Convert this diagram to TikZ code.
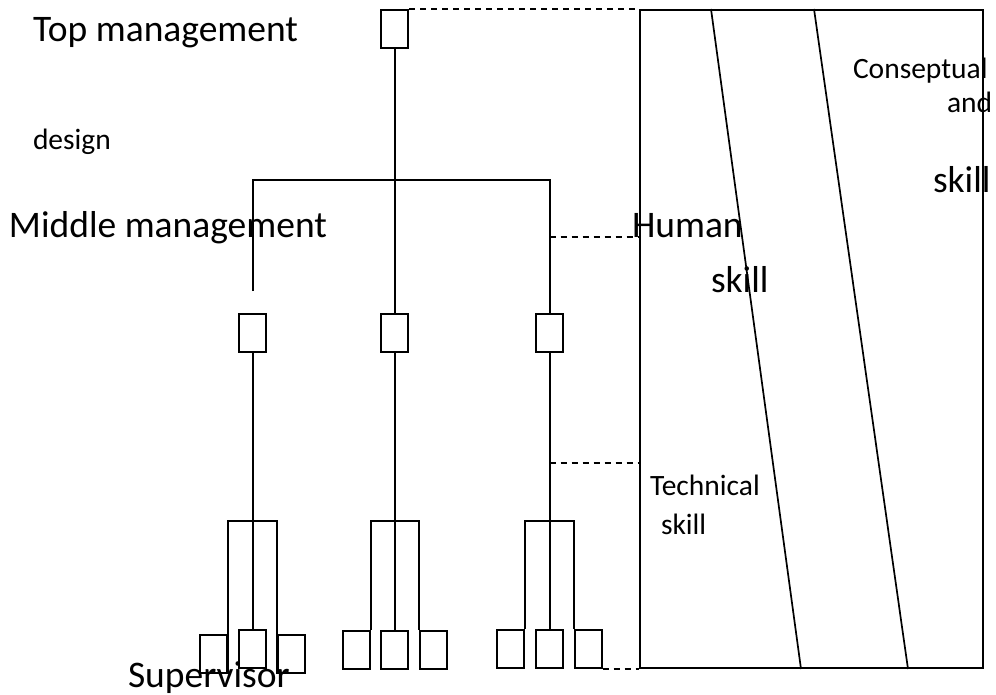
\documentclass[tikz,border=0pt]{standalone}
\usepackage{fontspec}
\setmainfont{Carlito}
\usepackage{tikz}
\usetikzlibrary{positioning}

\begin{document}
\begin{tikzpicture}
[x = 1pt, y = -1pt,
 line width = 2pt,
 unit/.style = {draw, rectangle, inner sep = 0pt, minimum width = 27pt, minimum height = 38pt},
 link/.style = {dashed, dash pattern = on 6pt off 5pt},
 bigtext/.style = {inner sep = 0pt, anchor = base west, font = \fontsize{37.5}{40}\selectfont},
 smalltext/.style = {inner sep = 0pt, anchor = base west, font = \fontsize{29.5}{32}\selectfont}]

\useasboundingbox (0,0) rectangle (996,695);

\node[unit] (top) at (394.5,29) {};

\node[unit] (m1) at (252.5,332.5) {};
\node[unit] (m2) at (394.5,332.5) {};
\node[unit] (m3) at (549.5,332.5) {};

\node[unit] (b11) at (213.5,653.5) {};
\node[unit] (b12) at (252.5,649) {};
\node[unit] (b13) at (291.5,653.5) {};

\node[unit] (b21) at (356,649.5) {};
\node[unit] (b22) at (394.5,649.5) {};
\node[unit] (b23) at (433,649.5) {};

\node[unit] (b31) at (510.5,649) {};
\node[unit] (b32) at (549.5,649) {};
\node[unit] (b33) at (588,649) {};

\node[draw, rectangle, inner sep = 0pt,
      minimum width = 343pt, minimum height = 658pt] (skills) at (811.5,339) {};

\coordinate (bar) at (394.5,180);
\coordinate (gap) at (252.5,291);
\coordinate (br1) at (252.5,521);
\coordinate (br2) at (394.5,521);
\coordinate (br3) at (549.5,521);
\coordinate (h1) at (549.5,237);
\coordinate (h2) at (549.5,463);

\draw (top) -- (m2);
\draw (gap) |- (bar) -| (m3);

\draw (m1) -- (b12);
\draw (m2) -- (b22);
\draw (m3) -- (b32);

\draw (b11.south east) |- (br1) -| (b13.south west);
\draw (b21.north east) |- (br2) -| (b23.north west);
\draw (b31.north east) |- (br3) -| (b33.north west);

\draw[link] (top.north east) -- (top.north east -| skills.west);
\draw[link] (h1) -- (h1 -| skills.west);
\draw[link] (h2) -- (h2 -| skills.west);
\draw[link] (b33.south east) -- (b33.south east -| skills.west);

\draw[line width = 1.7pt] ([xshift = 72pt]skills.north west) -- ([xshift = 162pt]skills.south west);
\draw[line width = 1.7pt] ([xshift = 175pt]skills.north west) -- ([xshift = 269pt]skills.south west);

\node[bigtext] (topname) at (32,42) {Top management};
\node[smalltext] (design) at (32,150) {design};
\node[bigtext] (midname) at (8,238) {Middle management};
\node[bigtext] (supname) at (127,687) {Supervisor};

\node[bigtext] (human) at (631,238) {Human};
\node[bigtext] (humskill) at (710,292) {skill};
\node[smalltext] (concept) at (852,79) {Conseptual};
\node[smalltext] (conand) at (946,113) {and};
\node[bigtext] (conskill) at (932,193) {skill};
\node[smalltext] (tech) at (649,495) {Technical};
\node[smalltext] (techskill) at (660,534) {skill};

\end{tikzpicture}
\end{document}
